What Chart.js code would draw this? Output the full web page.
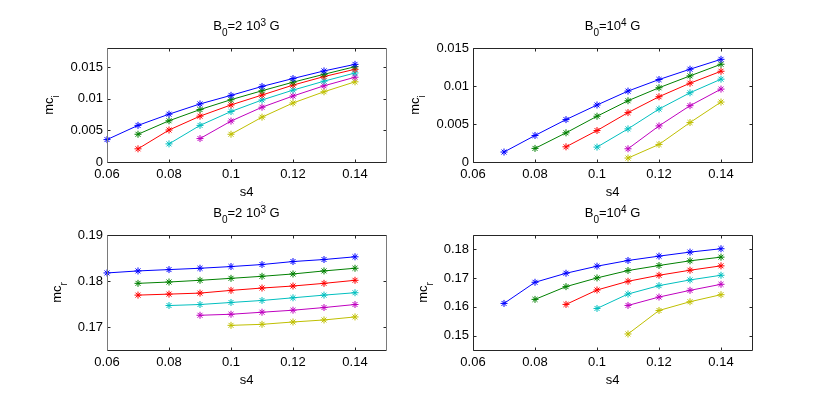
<!DOCTYPE html>
<html>
<head>
<meta charset="utf-8">
<script src="https://cdn.jsdelivr.net/npm/chart.js@4.4.0/dist/chart.umd.min.js"></script>
<style>
  html, body { margin: 0; padding: 0; background: #fff; }
  body { width: 830px; height: 398px; position: relative; overflow: hidden; }
  .panel { position: absolute; }
</style>
</head>
<body>
<div class="panel"><canvas id="c0"></canvas></div>
<div class="panel"><canvas id="c1"></canvas></div>
<div class="panel"><canvas id="c2"></canvas></div>
<div class="panel"><canvas id="c3"></canvas></div>
<script>
// x values shared by every panel
const s4 = [0.06, 0.07, 0.08, 0.09, 0.10, 0.11, 0.12, 0.13, 0.14];

// mc_i, B0 = 2 10^3 G
const tlBlue    = [0.00354, 0.00578, 0.00755, 0.00917, 0.01052, 0.01193, 0.01318, 0.01438, 0.01542];
const tlGreen   = [null, 0.00438, 0.00651, 0.00828, 0.00984, 0.01125, 0.01260, 0.01385, 0.01505];
const tlRed     = [null, 0.00208, 0.00505, 0.00724, 0.00901, 0.01057, 0.01214, 0.01349, 0.01464];
const tlCyan    = [null, null, 0.00286, 0.00578, 0.00797, 0.00979, 0.01135, 0.01276, 0.01406];
const tlMagenta = [null, null, null, 0.00370, 0.00646, 0.00865, 0.01042, 0.01203, 0.01339];
const tlYellow  = [null, null, null, null, 0.00438, 0.00708, 0.00932, 0.01109, 0.01266];

// mc_i, B0 = 10^4 G
const trBlue    = [null, 0.00131, 0.00349, 0.00558, 0.00750, 0.00933, 0.01085, 0.01221, 0.01351];
const trGreen   = [null, null, 0.00179, 0.00384, 0.00602, 0.00806, 0.00977, 0.01133, 0.01286];
const trRed     = [null, null, null, 0.00200, 0.00414, 0.00650, 0.00859, 0.01037, 0.01194];
const trCyan    = [null, null, null, null, 0.00196, 0.00436, 0.00697, 0.00911, 0.01090];
const trMagenta = [null, null, null, null, null, 0.00174, 0.00475, 0.00741, 0.00959];
const trYellow  = [null, null, null, null, null, 0.00052, 0.00231, 0.00519, 0.00789];

// mc_r, B0 = 2 10^3 G
const blBlue    = [0.18175, 0.18219, 0.18248, 0.18277, 0.18314, 0.18358, 0.18423, 0.18467, 0.18526];
const blGreen   = [null, 0.17949, 0.17978, 0.18015, 0.18058, 0.18102, 0.18153, 0.18219, 0.18277];
const blRed     = [null, 0.17693, 0.17715, 0.17737, 0.17796, 0.17847, 0.17891, 0.17949, 0.18015];
const blCyan    = [null, null, 0.17467, 0.17489, 0.17533, 0.17577, 0.17635, 0.17693, 0.17745];
const blMagenta = [null, null, null, 0.17255, 0.17277, 0.17321, 0.17365, 0.17423, 0.17489];
const blYellow  = [null, null, null, null, 0.17036, 0.17058, 0.17109, 0.17153, 0.17219];

// mc_r, B0 = 10^4 G
const brBlue    = [null, 0.16120, 0.16855, 0.17170, 0.17415, 0.17614, 0.17765, 0.17905, 0.18022];
const brGreen   = [null, null, 0.16260, 0.16704, 0.17007, 0.17264, 0.17439, 0.17602, 0.17730];
const brRed     = [null, null, null, 0.16085, 0.16587, 0.16890, 0.17100, 0.17275, 0.17427];
const brCyan    = [null, null, null, null, 0.15945, 0.16447, 0.16739, 0.16937, 0.17100];
const brMagenta = [null, null, null, null, null, 0.16050, 0.16342, 0.16575, 0.16785];
const brYellow  = [null, null, null, null, null, 0.15058, 0.15875, 0.16179, 0.16424];

// tick values and labels
const xTicks = [0.06, 0.08, 0.10, 0.12, 0.14];
const xTickLabels = ["0.06", "0.08", "0.1", "0.12", "0.14"];
const yTicksImag = [0, 0.005, 0.01, 0.015];
const yTickLabelsImag = ["0", "0.005", "0.01", "0.015"];
const yTicksRealLow = [0.17, 0.18, 0.19];
const yTickLabelsRealLow = ["0.17", "0.18", "0.19"];
const yTicksRealHigh = [0.15, 0.16, 0.17, 0.18];
const yTickLabelsRealHigh = ["0.15", "0.16", "0.17", "0.18"];

// titles as [text, shift] pieces: -1 subscript, 1 superscript
const titleLow = [["B", 0], ["0", -1], ["=2 10", 0], ["3", 1], [" G", 0]];
const titleHigh = [["B", 0], ["0", -1], ["=10", 0], ["4", 1], [" G", 0]];
const xLabel = "s4";

const colors = ["#0000ff", "#008000", "#ff0000", "#00bfbf", "#bf00bf", "#bfbf00"];
const FONT = "'Liberation Sans', Arial, Helvetica, sans-serif";
const PAD_L = 100, PAD_R = 20, PAD_T = 50, PAD_B = 50;

const panels = [
  { id: "c0", box: [107, 48, 386, 162], series: [tlBlue, tlGreen, tlRed, tlCyan, tlMagenta, tlYellow],
    yMin: 0, yMax: 0.018, yTicks: yTicksImag, yLabels: yTickLabelsImag,
    title: titleLow, ylabel: ["mc", "i"], side: "#7a7a7a" },
  { id: "c1", box: [473, 48, 752, 162], series: [trBlue, trGreen, trRed, trCyan, trMagenta, trYellow],
    yMin: 0, yMax: 0.015, yTicks: yTicksImag, yLabels: yTickLabelsImag,
    title: titleHigh, ylabel: ["mc", "i"], side: "#262626" },
  { id: "c2", box: [107, 235, 386, 350], series: [blBlue, blGreen, blRed, blCyan, blMagenta, blYellow],
    yMin: 0.165, yMax: 0.19, yTicks: yTicksRealLow, yLabels: yTickLabelsRealLow,
    title: titleLow, ylabel: ["mc", "r"], side: "#7a7a7a" },
  { id: "c3", box: [473, 235, 752, 350], series: [brBlue, brGreen, brRed, brCyan, brMagenta, brYellow],
    yMin: 0.145, yMax: 0.185, yTicks: yTicksRealHigh, yLabels: yTickLabelsRealHigh,
    title: titleHigh, ylabel: ["mc", "r"], side: "#262626" }
];

// draws text pieces with sub/superscripts, starting at x
function drawPieces(ctx, pieces, x, y, big, small) {
  pieces.forEach(function (p) {
    ctx.font = (p[1] === 0 ? big : small) + "px " + FONT;
    const dy = p[1] === -1 ? 6 : (p[1] === 1 ? -4 : 0);
    ctx.fillText(p[0], x, y + dy);
    x += ctx.measureText(p[0]).width;
  });
  return x;
}
function piecesWidth(ctx, pieces, big, small) {
  let w = 0;
  pieces.forEach(function (p) {
    ctx.font = (p[1] === 0 ? big : small) + "px " + FONT;
    w += ctx.measureText(p[0]).width;
  });
  return w;
}

// box, inward ticks, title and axis labels (MATLAB look)
function framePlugin(p) {
  return {
    id: "frame",
    afterDraw: function (chart) {
      const ctx = chart.ctx;
      const a = chart.chartArea;
      const xs = chart.scales.x, ys = chart.scales.y;
      const L = Math.round(a.left) + 0.5, R = Math.round(a.right) + 0.5;
      const T = Math.round(a.top) + 0.5, B = Math.round(a.bottom) + 0.5;
      ctx.save();
      ctx.lineWidth = 1;
      ctx.strokeStyle = "#262626";
      ctx.beginPath();
      ctx.moveTo(L, T); ctx.lineTo(R, T);
      ctx.moveTo(L, B); ctx.lineTo(R, B);
      xTicks.forEach(function (v) {
        const px = Math.round(xs.getPixelForValue(v)) + 0.5;
        ctx.moveTo(px, B); ctx.lineTo(px, B - 3);
        ctx.moveTo(px, T); ctx.lineTo(px, T + 3);
      });
      p.yTicks.forEach(function (v) {
        const py = Math.round(ys.getPixelForValue(v)) + 0.5;
        ctx.moveTo(L, py); ctx.lineTo(L + 3, py);
        ctx.moveTo(R, py); ctx.lineTo(R - 3, py);
      });
      ctx.stroke();
      ctx.strokeStyle = p.side;
      ctx.beginPath();
      ctx.moveTo(L, T); ctx.lineTo(L, B);
      ctx.moveTo(R, T); ctx.lineTo(R, B);
      ctx.stroke();

      ctx.fillStyle = "#000";
      ctx.textBaseline = "alphabetic";
      ctx.textAlign = "left";
      const cx = (a.left + a.right) / 2;

      // title
      const tw = piecesWidth(ctx, p.title, 13, 10);
      drawPieces(ctx, p.title, cx - tw / 2, a.top - 18, 13, 10);

      // x label
      ctx.font = "13px " + FONT;
      ctx.textAlign = "center";
      ctx.fillText(xLabel, cx, a.bottom + 34);

      // y label, rotated, placed left of the widest tick label
      ctx.font = "13px " + FONT;
      let maxW = 0;
      p.yLabels.forEach(function (s) { maxW = Math.max(maxW, ctx.measureText(s).width); });
      const bx = a.left - 4 - maxW - 17;
      const cy = (a.top + a.bottom) / 2;
      ctx.translate(bx, cy);
      ctx.rotate(-Math.PI / 2);
      ctx.textAlign = "left";
      const lw = piecesWidth(ctx, [[p.ylabel[0], 0], [p.ylabel[1], -1]], 13, 10);
      drawPieces(ctx, [[p.ylabel[0], 0], [p.ylabel[1], -1]], -lw / 2, 0, 13, 10);
      ctx.restore();
    }
  };
}

panels.forEach(function (p) {
  const l = p.box[0], t = p.box[1], r = p.box[2], b = p.box[3];
  const canvas = document.getElementById(p.id);
  const w = r - l + PAD_L + PAD_R, h = b - t + PAD_T + PAD_B;
  canvas.width = w;
  canvas.height = h;
  canvas.style.width = w + "px";
  canvas.style.height = h + "px";
  canvas.parentNode.style.left = (l - PAD_L) + "px";
  canvas.parentNode.style.top = (t - PAD_T) + "px";

  new Chart(canvas, {
    type: "line",
    data: {
      datasets: p.series.map(function (vals, k) {
        return {
          data: s4.map(function (x, i) { return { x: x, y: vals[i] }; })
                  .filter(function (d) { return d.y !== null; }),
          borderColor: colors[k],
          backgroundColor: colors[k],
          borderWidth: 1,
          pointStyle: "star",
          pointRadius: 3.5,
          pointBorderWidth: 1,
          pointBorderColor: colors[k],
          tension: 0,
          fill: false,
          clip: false
        };
      })
    },
    options: {
      responsive: false,
      animation: false,
      devicePixelRatio: 1,
      layout: { padding: { top: PAD_T, right: PAD_R, left: 0, bottom: 0 } },
      plugins: { legend: { display: false }, tooltip: { enabled: false } },
      scales: {
        x: {
          type: "linear", min: 0.06, max: 0.15,
          grid: { display: false, drawTicks: false },
          border: { display: false },
          afterBuildTicks: function (s) { s.ticks = xTicks.map(function (v) { return { value: v }; }); },
          afterFit: function (s) { s.height = PAD_B; },
          ticks: {
            padding: 5, color: "#000", autoSkip: false, maxRotation: 0,
            font: { family: FONT, size: 13, lineHeight: 1.2 },
            callback: function (v, i) { return xTickLabels[i]; }
          }
        },
        y: {
          type: "linear", min: p.yMin, max: p.yMax,
          grid: { display: false, drawTicks: false },
          border: { display: false },
          afterBuildTicks: function (s) { s.ticks = p.yTicks.map(function (v) { return { value: v }; }); },
          afterFit: function (s) { s.width = PAD_L; },
          ticks: {
            padding: 4, color: "#000", autoSkip: false,
            font: { family: FONT, size: 13, lineHeight: 1.2 },
            callback: function (v, i) { return p.yLabels[i]; }
          }
        }
      }
    },
    plugins: [framePlugin(p)]
  });
});
</script>
</body>
</html>
